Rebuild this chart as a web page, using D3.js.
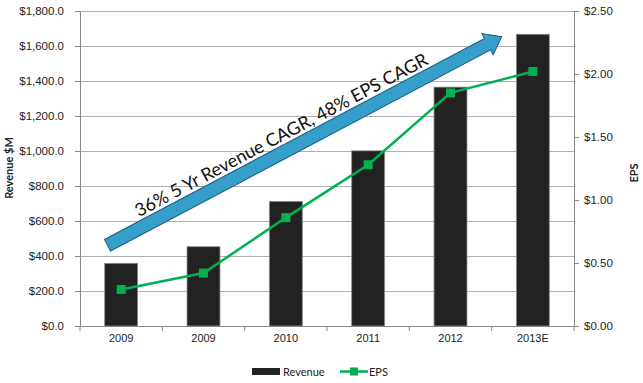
<!DOCTYPE html>
<html><head><meta charset="utf-8">
<script src="https://cdn.jsdelivr.net/npm/d3@7"></script>
<style>body{margin:0;background:#fff}svg{display:block;font-family:Lato,"Open Sans",sans-serif}</style>
</head><body><svg id="c" width="643" height="383"></svg>
<script>
const categories = ["2009","2009","2010","2011","2012","2013E"];
const revenue = [358, 453, 712, 1001, 1365, 1667];
const eps = [0.29, 0.42, 0.86, 1.28, 1.85, 2.02];
const revTicks = [0,200,400,600,800,1000,1200,1400,1600,1800];
const epsTicks = [0,0.5,1,1.5,2,2.5];
const annotation = "36% 5 Yr Revenue CAGR, 48% EPS CAGR";

const svg = d3.select("#c");
const L = 80, R = 574, T = 11, B = 326;
const x = d3.scaleBand().domain(d3.range(categories.length)).range([L, R]).paddingInner(0.6).paddingOuter(0.3);
const yL = d3.scaleLinear().domain([0,1800]).range([B, T]);
const yR = d3.scaleLinear().domain([0,2.5]).range([B, T]);

// gridlines
svg.append("g").selectAll("line").data(revTicks.slice(1)).join("line")
  .attr("x1", L).attr("x2", R).attr("y1", d=>yL(d)+0.5).attr("y2", d=>yL(d)+0.5)
  .attr("stroke", "#b0b0b0").attr("stroke-width", 1);

// bars
svg.append("g").selectAll("rect").data(revenue).join("rect")
  .attr("x", (d,i)=>x(i)).attr("width", x.bandwidth())
  .attr("y", d=>yL(d)).attr("height", d=>B-yL(d))
  .attr("fill", "#222").attr("stroke", "#8a8a8a").attr("stroke-width", 0.8);

// left axis
const axL = svg.append("g").attr("transform", `translate(${L},0)`)
  .call(d3.axisLeft(yL).tickValues(revTicks).tickSize(5).tickFormat(d=>"$"+d3.format(",.1f")(d)));
axL.select(".domain").attr("stroke", "#888");
axL.selectAll(".tick line").attr("stroke", "#888");
axL.selectAll("text").attr("font-size", 11.5).attr("fill", "#222").attr("x", -16);

// right axis
const axR = svg.append("g").attr("transform", `translate(${R},0)`)
  .call(d3.axisRight(yR).tickValues(epsTicks).tickSize(5).tickFormat(d=>"$"+d3.format(".2f")(d)));
axR.select(".domain").attr("stroke", "#888");
axR.selectAll(".tick line").attr("stroke", "#888");
axR.selectAll("text").attr("font-size", 11.5).attr("fill", "#222").attr("x", 10);

// x axis
const axX = svg.append("g").attr("transform", `translate(0,${B})`)
  .call(d3.axisBottom(x).tickSize(0).tickFormat(i=>categories[i]));
axX.select(".domain").attr("stroke", "#888");
axX.selectAll("text").attr("font-size", 11).attr("fill", "#222").attr("dy", "1.2em");
const bounds = d3.range(categories.length+1).map(i => L + i*x.step());
svg.append("g").selectAll("line").data(bounds).join("line")
  .attr("x1", d=>d).attr("x2", d=>d).attr("y1", B).attr("y2", B+5).attr("stroke", "#888");

// EPS line
const line = d3.line().x((d,i)=>x(i)+x.bandwidth()/2).y(d=>yR(d));
svg.append("path").datum(eps).attr("d", line).attr("fill", "none").attr("stroke", "#00b050").attr("stroke-width", 2.5);
svg.append("g").selectAll("rect").data(eps).join("rect")
  .attr("x", (d,i)=>x(i)+x.bandwidth()/2-4.5).attr("y", d=>yR(d)-4.5)
  .attr("width", 9).attr("height", 9).attr("fill", "#00b050");

// axis titles
svg.append("text").attr("transform", "translate(13,168) rotate(-90)").attr("text-anchor", "middle")
  .attr("font-size", 11).attr("font-weight", "bold").attr("fill", "#222").text("Revenue $M");
svg.append("text").attr("transform", "translate(638,173) rotate(-90)").attr("text-anchor", "middle")
  .attr("font-size", 11).attr("font-weight", "bold").attr("fill", "#222").text("EPS");

// arrow annotation
const x0 = 107.5, y0 = 245.3, x1 = 501.7, y1 = 36.7;
const len = Math.hypot(x1-x0, y1-y0), ang = Math.atan2(y1-y0, x1-x0)*180/Math.PI;
const sw = 6.5, hl = 16, hw = 12;
const ag = svg.append("g").attr("transform", `translate(${x0},${y0}) rotate(${ang})`);
ag.append("path").attr("d", `M0,${-sw}L${len-hl},${-sw}L${len-hl},${-hw}L${len},0L${len-hl},${hw}L${len-hl},${sw}L0,${sw}Z`)
  .attr("fill", "#359ec9").attr("stroke", "#1c5f80").attr("stroke-width", 1);
ag.append("text").attr("x", len*0.46).attr("y", -10).attr("text-anchor", "middle")
  .attr("font-size", 18).attr("fill", "#111").text(annotation);

// legend
const lg = svg.append("g");
lg.append("rect").attr("x", 252).attr("y", 368).attr("width", 28).attr("height", 7).attr("fill", "#222");
lg.append("text").attr("x", 283).attr("y", 375.5).attr("font-size", 11).attr("fill", "#222").text("Revenue");
lg.append("line").attr("x1", 340).attr("x2", 368).attr("y1", 371.5).attr("y2", 371.5).attr("stroke", "#00b050").attr("stroke-width", 2.5);
lg.append("rect").attr("x", 350).attr("y", 367.5).attr("width", 8).attr("height", 8).attr("fill", "#00b050");
lg.append("text").attr("x", 369).attr("y", 375.5).attr("font-size", 11).attr("fill", "#222").text("EPS");
</script></body></html>
